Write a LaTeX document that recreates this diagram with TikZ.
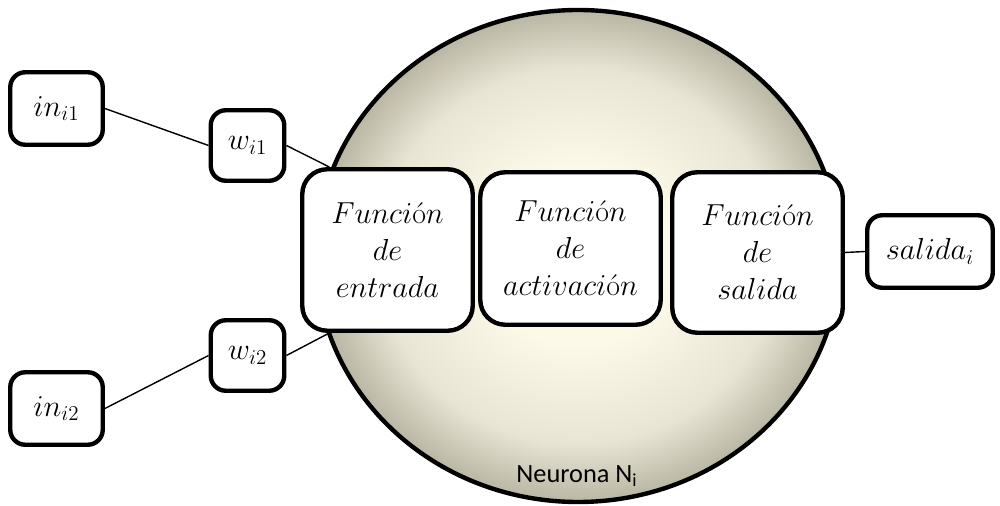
\documentclass[tikz,border=0pt]{standalone}
\usepackage{fontspec}
\newfontfamily\calfont{Carlito}
\definecolor{somalight}{RGB}{252,249,232}
\definecolor{somamid}{RGB}{232,229,212}
\definecolor{somadark}{RGB}{186,182,164}
\pgfdeclareradialshading{somashade}{\pgfpoint{0bp}{0bp}}{color(0bp)=(somalight); color(9bp)=(somalight); color(19bp)=(somamid); color(25bp)=(somadark); color(50bp)=(somadark)}
\begin{document}
\begin{tikzpicture}[x=0.02cm,y=-0.02cm,
  box/.style={draw,line width=2.5pt,fill=white,rounded corners=0.3cm,font=\fontsize{17}{21}\selectfont},
  funcbox/.style={box,rounded corners=0.5cm,align=center},
  link/.style={line width=0.8pt}]
\useasboundingbox (0,0) rectangle (1000,506);
\draw[line width=2.5pt,shading=somashade] (578,256) ellipse [x radius=262,y radius=246]; % soma
\node[font=\calfont\fontsize{15}{18}\selectfont] (neurona) at (577,476) {Neurona N\textsubscript{i}};
\node[box,minimum width=1.85cm,minimum height=1.45cm] (in1) at (56.5,108.5) {$in_{i1}$};
\node[box,minimum width=1.47cm,minimum height=1.41cm] (w1) at (247.5,145.5) {$w_{i1}$};
\node[box,minimum width=1.85cm,minimum height=1.45cm] (in2) at (56.5,408.5) {$in_{i2}$};
\node[box,minimum width=1.47cm,minimum height=1.41cm] (w2) at (247.5,355.5) {$w_{i2}$};
\node[funcbox,minimum width=3.41cm,minimum height=3.23cm] (entrada) at (387.5,250) {$Funci\mbox{ó}n$\\$de$\\$entrada$};
\node[funcbox,minimum width=3.61cm,minimum height=3.05cm] (activacion) at (570.5,248.5) {$Funci\mbox{ó}n$\\$de$\\$activaci\mbox{ó}n$};
\node[funcbox,minimum width=3.41cm,minimum height=3.21cm] (fsalida) at (757.5,252.5) {$Funci\mbox{ó}n$\\$de$\\$salida$};
\node[box,minimum width=2.51cm,minimum height=1.45cm] (salida) at (930,251.5) {$salida_i$};
\draw[link] (in1.east) -- (w1.west);
\draw[link] (w1.east) -- (entrada.125);
\draw[link] (in2.east) -- (w2.west);
\draw[link] (w2.east) -- (entrada.235);
\draw[link] (fsalida.east) -- (salida.west);
\end{tikzpicture}
\end{document}
